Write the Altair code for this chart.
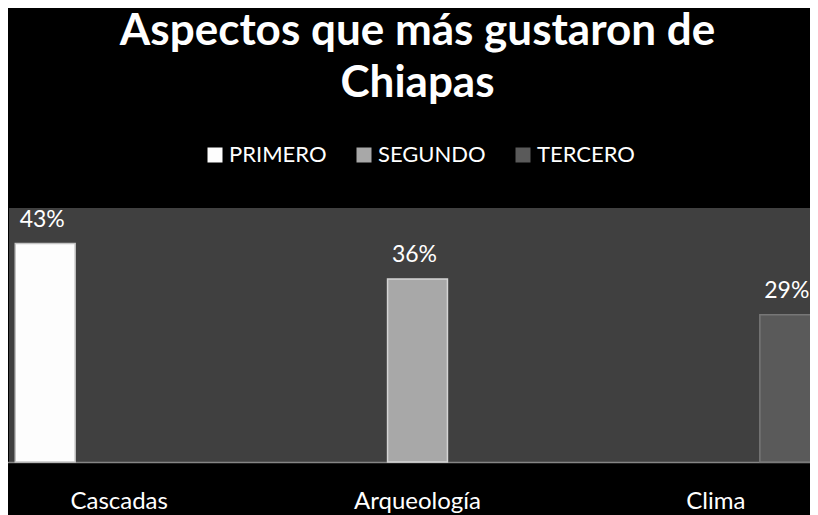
import altair as alt
import pandas as pd

categories = ["Cascadas", "Arqueología", "Clima"]
series = ["PRIMERO", "SEGUNDO", "TERCERO"]
values = [43, 36, 29]
value_labels = ["43%", "36%", "29%"]
colors = ["#fdfdfd", "#a8a8a8", "#5a5a5a"]
edge_colors = ["#c4c4c4", "#d4d4d4", "#777777"]

df = pd.DataFrame({
    "categoria": categories,
    "serie": series,
    "valor": values,
    "etiqueta": value_labels,
})

x_enc = alt.X(
    "categoria:N",
    sort=categories,
    scale=alt.Scale(range=[-39, 856], paddingInner=0, paddingOuter=0),
    axis=alt.Axis(
        title=None, ticks=False, labelAngle=0, labelColor="white",
        labelFont="Lato", labelFontSize=24, labelPadding=27,
        domainColor="#858585", domainWidth=1.5, grid=False,
    ),
)
xoff_enc = alt.XOffset("serie:N", sort=series,
                       scale=alt.Scale(paddingInner=0.19, paddingOuter=0.612))
y_enc = alt.Y("valor:Q", scale=alt.Scale(domain=[0, 50]), axis=None)

bars = alt.Chart(df).mark_bar(strokeWidth=1.5).encode(
    x=x_enc,
    xOffset=xoff_enc,
    y=y_enc,
    color=alt.Color(
        "serie:N", sort=series,
        scale=alt.Scale(domain=series, range=colors),
        legend=alt.Legend(
            title=None, orient="none", direction="horizontal",
            legendX=195, legendY=-64, symbolType="square", symbolSize=225,
            symbolStrokeWidth=0, labelColor="white", labelFont="Lato",
            labelFontSize=22, labelOffset=3, columnPadding=26, padding=0,
        ),
    ),
    stroke=alt.Stroke("serie:N", scale=alt.Scale(domain=series, range=edge_colors), legend=None),
)

text = alt.Chart(df).mark_text(
    dy=-17, dx=-3, baseline="alphabetic", font="Lato", fontSize=23, color="white"
).encode(x=x_enc, xOffset=xoff_enc, y=y_enc, text="etiqueta:N")

chart = alt.layer(bars, text).properties(
    width=801,
    height=254,
    padding={"left": 1, "top": 200, "right": 0, "bottom": 56},
    autosize=alt.AutoSizeParams(type="none"),
    background="black",
    title=alt.Title(
        ["Aspectos que más gustaron de", "Chiapas"],
        font="Lato", fontSize=44, fontWeight="bold", color="white",
        lineHeight=52, anchor="middle", offset=38, dx=8,
    ),
).configure_view(fill="#404040", stroke=None)

chart.save("out.html", embed_options={"renderer": "svg", "actions": False})
